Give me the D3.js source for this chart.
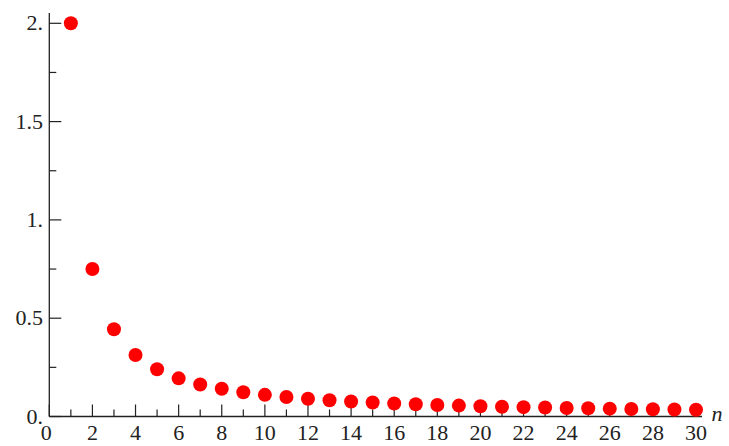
<!DOCTYPE html>
<html><head><meta charset="utf-8">
<script src="https://cdn.jsdelivr.net/npm/d3@7"></script>
<style>html,body{margin:0;padding:0;background:#fff;overflow:hidden}</style>
</head><body>
<svg id="chart" width="729" height="446"></svg>
<script>
const nValues = [1,2,3,4,5,6,7,8,9,10,11,12,13,14,15,16,17,18,19,20,21,22,23,24,25,26,27,28,29,30];
const yValues = [2,0.75,0.444,0.3125,0.24,0.194,0.163,0.141,0.123,0.11,0.0992,0.0903,0.0828,0.0765,0.0711,0.0664,0.0623,0.0586,0.0554,0.0525,0.0499,0.0475,0.0454,0.0434,0.0416,0.0399,0.0384,0.037,0.0357,0.0344];
const xTickLabels = ["0","2","4","6","8","10","12","14","16","18","20","22","24","26","28","30"];
const yTickLabels = ["0.","0.5","1.","1.5","2."];
const yMajor = [0,0.5,1,1.5,2];
const yMinor = [0.25,0.75,1.25,1.75];
const xMajor = [0,2,4,6,8,10,12,14,16,18,20,22,24,26,28,30];
const xMinor = [1,3,5,7,9,11,13,15,17,19,21,23,25,27,29];

const svg = d3.select("#chart");
const x = d3.scaleLinear().domain([0,30]).range([49.3,696]);
const y = d3.scaleLinear().domain([0,2]).range([416.5,23.3]);
const axisColor = "#222";
const font = "'Liberation Serif','Times New Roman',serif";

// axes lines
svg.append("line").attr("x1",x(0)).attr("x2",702).attr("y1",y(0)).attr("y2",y(0))
  .attr("stroke",axisColor).attr("stroke-width",1.3);
svg.append("line").attr("x1",x(0)).attr("x2",x(0)).attr("y1",13).attr("y2",y(0))
  .attr("stroke",axisColor).attr("stroke-width",1.3);

// x ticks
const gx = svg.append("g");
gx.selectAll("line.maj").data(xMajor).join("line")
  .attr("x1",d=>x(d)).attr("x2",d=>x(d)).attr("y1",y(0)).attr("y2",y(0)-12)
  .attr("stroke",axisColor).attr("stroke-width",1.2);
gx.selectAll("line.min").data(xMinor).join("line").attr("class","min")
  .attr("x1",d=>x(d)).attr("x2",d=>x(d)).attr("y1",y(0)).attr("y2",y(0)-7)
  .attr("stroke",axisColor).attr("stroke-width",1.2);
gx.selectAll("text").data(xMajor).join("text")
  .attr("x",(d,i)=>x(d)+(i===0?-3:0)).attr("y",440)
  .attr("text-anchor","middle").attr("font-family",font).attr("font-size",22).attr("fill","#222")
  .text((d,i)=>xTickLabels[i]);

// y ticks
const gy = svg.append("g");
gy.selectAll("line.maj").data(yMajor).join("line")
  .attr("x1",x(0)).attr("x2",x(0)+12).attr("y1",d=>y(d)).attr("y2",d=>y(d))
  .attr("stroke",axisColor).attr("stroke-width",1.2);
gy.selectAll("line.min").data(yMinor).join("line").attr("class","min")
  .attr("x1",x(0)).attr("x2",x(0)+7).attr("y1",d=>y(d)).attr("y2",d=>y(d))
  .attr("stroke",axisColor).attr("stroke-width",1.2);
gy.selectAll("text").data(yMajor).join("text")
  .attr("x",43).attr("y",d=>y(d)+7)
  .attr("text-anchor","end").attr("font-family",font).attr("font-size",22).attr("fill","#222")
  .text((d,i)=>yTickLabels[i]);

// axis label
svg.append("text").attr("x",717).attr("y",421).attr("text-anchor","middle")
  .attr("font-family",font).attr("font-style","italic").attr("font-size",22).attr("fill","#222").text("n");

// points
svg.append("g").selectAll("circle").data(nValues).join("circle")
  .attr("cx",d=>x(d)).attr("cy",(d,i)=>y(yValues[i])).attr("r",7).attr("fill","#ff0000");
</script>
</body></html>
